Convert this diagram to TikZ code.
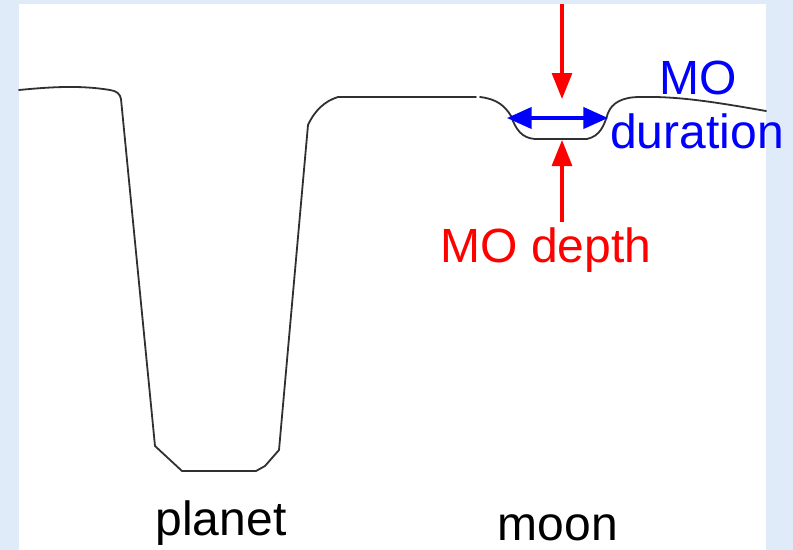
\documentclass[tikz,border=0pt]{standalone}
\usepackage{fontspec}
\setmainfont{Liberation Sans}
\usetikzlibrary{arrows.meta}
\definecolor{bgblue}{HTML}{E0EBFA}
\definecolor{curvegray}{HTML}{303030}
\tikzset{
  lbl/.style={anchor=base, inner sep=0pt, font=\fontsize{36pt}{42pt}\selectfont},
  curve/.style={draw=curvegray, line width=1.35pt, line join=round, line cap=round},
  redarrow/.style={draw=red, line width=2.3pt, -{Triangle[length=19.5pt,width=15pt]}},
  bluearrow/.style={draw=blue, line width=2.3pt, {Triangle[length=18.5pt,width=16pt]}-{Triangle[length=18.5pt,width=16pt]}}
}
\begin{document}
\begin{tikzpicture}[x=0.75pt,y=-0.75pt]
\useasboundingbox (0,0) rectangle (793,550);
\fill[bgblue] (0,0) rectangle (793,550);
\fill[white] (19,4) rectangle (766,550);
% light curve
\draw[curve] (19,90) .. controls (50,87) and (80,85) .. (110,90)
  .. controls (117,91) and (120,94) .. (121,99)
  -- (155,446) -- (182,471) -- (256,471) -- (265,466) -- (279,450)
  -- (308,125) .. controls (315,110) and (325,101) .. (338,97)
  -- (476,97);
\draw[curve] (480,97) .. controls (497,99) and (505,106) .. (511,116)
  .. controls (516,130) and (522,138) .. (535,139)
  -- (587,139) .. controls (600,136) and (604,126) .. (608,113)
  .. controls (612,103) and (622,97) .. (640,97)
  .. controls (680,96) and (720,103) .. (766,111);
% coordinates
\coordinate (rtop) at (562,4);
\coordinate (rtopend) at (562,99);
\coordinate (rbot) at (562,222);
\coordinate (rbotend) at (562,140);
\coordinate (bl) at (507,118);
\coordinate (br) at (608,118);
\draw[redarrow] (rtop) -- (rtopend);
\draw[redarrow] (rbot) -- (rbotend);
\draw[bluearrow] (bl) -- (br);
% labels
\node[lbl, text=red] (depth) at (546,262) {MO depth};
\node[lbl, text=blue] (mo) at (698,94) {MO};
\node[lbl, text=blue] (dur) at (697,148) {duration};
\node[lbl] (planet) at (221,535) {planet};
\node[lbl] (moon) at (558,540) {moon};
\end{tikzpicture}
\end{document}
